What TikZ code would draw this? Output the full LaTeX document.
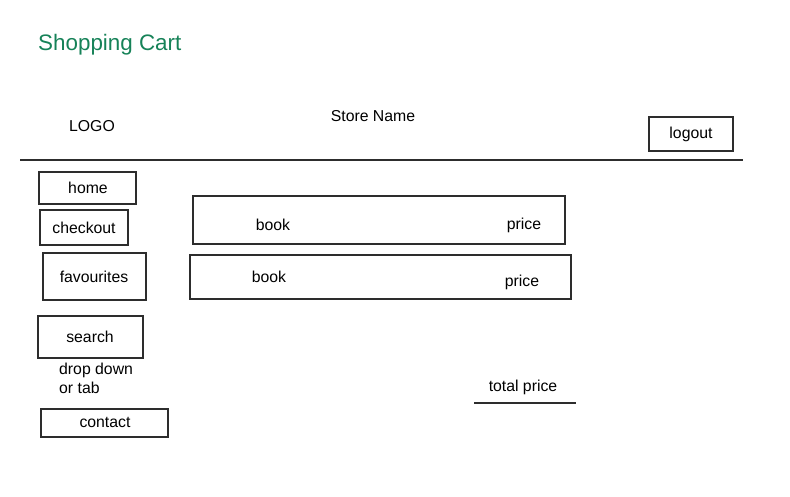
\documentclass[tikz,border=0pt]{standalone}
\usepackage{fontspec}
\setmainfont{Liberation Sans}
\definecolor{titlegreen}{RGB}{22,130,88}
\definecolor{ink}{RGB}{45,45,45}
\tikzset{
  lbl/.style={inner sep=0pt, font=\fontsize{15.8}{18}\selectfont, text=black},
  boxstyle/.style={draw=ink, line width=1.3pt, inner sep=0pt},
  rule/.style={draw=ink, line width=1.3pt},
}
\begin{document}
\begin{tikzpicture}[x=1pt,y=-1pt]
\useasboundingbox (0,0) rectangle (790,497);
% title
\node[anchor=base west, inner sep=0pt, text=titlegreen, font=\fontsize{22.4}{26}\selectfont] (title) at (38,51) {Shopping Cart};
% header
\node[lbl] (logo) at (92,126.5) {LOGO};
\node[lbl] (store) at (373,116.5) {Store Name};
\node[boxstyle, minimum width=84pt, minimum height=34pt] (logoutbox) at (691,134) {};
\node[lbl] (logout) at (691,134.5) {logout};
\coordinate (hl) at (20,159.8);
\coordinate (hr) at (743,159.8);
\draw[draw=ink, line width=2pt] (hl) -- (hr);
% navigation
\node[boxstyle, minimum width=97pt, minimum height=32pt] (homebox) at (87.5,188) {};
\node[lbl] (home) at (88,187.5) {home};
\node[boxstyle, minimum width=88pt, minimum height=35pt] (checkoutbox) at (84,227.5) {};
\node[lbl] (checkout) at (84,227.5) {checkout};
\node[boxstyle, minimum width=103pt, minimum height=47pt] (favbox) at (94.5,276.5) {};
\node[lbl] (fav) at (94,276.5) {favourites};
\node[boxstyle, minimum width=105pt, minimum height=42pt] (searchbox) at (90.5,337) {};
\node[lbl] (search) at (90,336.5) {search};
\node[lbl, anchor=north west, align=left, font=\fontsize{15.8}{19}\selectfont] (drop) at (59,362.5) {drop down\\or tab};
\node[boxstyle, minimum width=127pt, minimum height=28pt] (contactbox) at (104.5,423) {};
\node[lbl] (contact) at (105,422.5) {contact};
% cart rows
\node[boxstyle, minimum width=372pt, minimum height=48pt] (row1) at (379,220) {};
\node[lbl] (book1) at (273,224.5) {book};
\node[lbl] (price1) at (524,225) {price};
\node[boxstyle, minimum width=381pt, minimum height=44pt] (row2) at (380.5,277) {};
\node[lbl] (book2) at (269,276.5) {book};
\node[lbl] (price2) at (522,282) {price};
% total
\node[lbl] (total) at (523,387.5) {total price};
\coordinate (tl) at (474,403);
\coordinate (tr) at (576,403);
\draw[rule] (tl) -- (tr);
\end{tikzpicture}
\end{document}
